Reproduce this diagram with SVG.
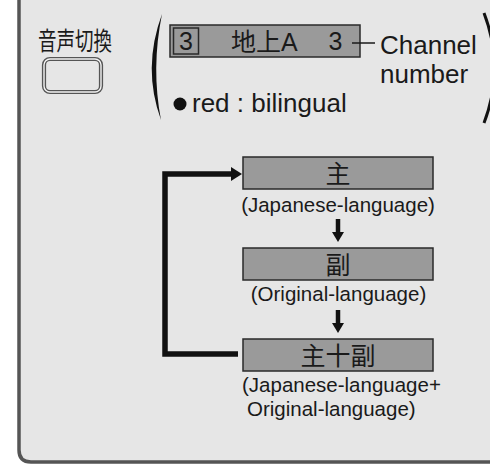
<svg xmlns="http://www.w3.org/2000/svg" width="490" height="465" viewBox="0 0 490 465">
<style>
.lat{font-family:"Liberation Sans","Noto Sans CJK JP",sans-serif;fill:#1a1a1a}
.cjk{font-family:"Noto Sans CJK JP",sans-serif;fill:#1a1a1a}
.box{fill:#9a9a9a;stroke:#2a2a2a;stroke-width:1.5}
.lbl{font-size:20.5px;text-anchor:middle}
</style>
<rect x="0" y="0" width="490" height="465" fill="#ffffff"/>
<path id="panel" d="M19,-10 V450 Q19,462 31,462 H500 V-10 Z" fill="#e6e6e6" stroke="#555555" stroke-width="3.5"/>
<g id="button-label">
<text class="cjk" x="38" y="50" font-size="25" textLength="74" lengthAdjust="spacingAndGlyphs">音声切換</text>
</g>
<g id="button">
<rect x="44" y="59" width="57" height="33" rx="6" fill="#e6e6e6" stroke="#555555" stroke-width="4.2"/>
<rect x="44" y="59" width="57" height="33" rx="6" fill="none" stroke="#f4f4f4" stroke-width="1.4"/>
</g>
<path id="paren-left" d="M162,14 Q142,68 161,120 Q151,68 162,14 Z" fill="#111111"/>
<path id="paren-right" d="M484,13 Q505,68 484,123" fill="none" stroke="#111111" stroke-width="3"/>
<g id="display">
<rect class="box" x="170" y="25" width="190" height="32"/>
<rect class="box" x="173.5" y="28" width="25" height="26" stroke-width="1.3"/>
<text class="lat" x="186" y="50" font-size="25" text-anchor="middle">3</text>
<text class="lat" x="231" y="51" font-size="25">地上A</text>
<text class="lat" x="335.5" y="50" font-size="25" text-anchor="middle">3</text>
</g>
<g id="channel-label">
<line x1="352" y1="43" x2="375" y2="43" stroke="#1a1a1a" stroke-width="1.5"/>
<text class="lat" x="380" y="54" font-size="26">Channel</text>
<text class="lat" x="380" y="83" font-size="26">number</text>
</g>
<g id="bilingual-note">
<circle cx="180" cy="104" r="6.5" fill="#111111"/>
<text class="lat" x="192" y="111.5" font-size="26">red : bilingual</text>
</g>
<g id="node-main">
<rect class="box" x="243" y="157" width="190" height="32"/>
<text class="cjk" x="338" y="183" font-size="25" text-anchor="middle">主</text>
<text class="lat lbl" x="338" y="212">(Japanese-language)</text>
</g>
<g id="node-sub">
<rect class="box" x="243" y="248" width="190" height="32"/>
<text class="cjk" x="338" y="274" font-size="25" text-anchor="middle">副</text>
<text class="lat lbl" x="338.5" y="300.5">(Original-language)</text>
</g>
<g id="node-both">
<rect class="box" x="243" y="339" width="190" height="32"/>
<text class="cjk" x="338" y="365" font-size="25" text-anchor="middle">主十副</text>
<text class="lat" x="242" y="391.5" font-size="20.5">(Japanese-language+</text>
<text class="lat" x="247" y="416" font-size="20.5">Original-language)</text>
</g>
<g id="connectors">
<path d="M338,219 V233" stroke="#111" stroke-width="4.5" fill="none"/>
<polygon points="332,232 344,232 338,242" fill="#111"/>
<path d="M338,310 V324" stroke="#111" stroke-width="4.5" fill="none"/>
<polygon points="332,323 344,323 338,333" fill="#111"/>
<path d="M238,354 H165 V174 H233" stroke="#111" stroke-width="5.5" fill="none" stroke-linejoin="miter"/>
<polygon points="231,167 242,174 231,181" fill="#111"/>
</g>
</svg>
